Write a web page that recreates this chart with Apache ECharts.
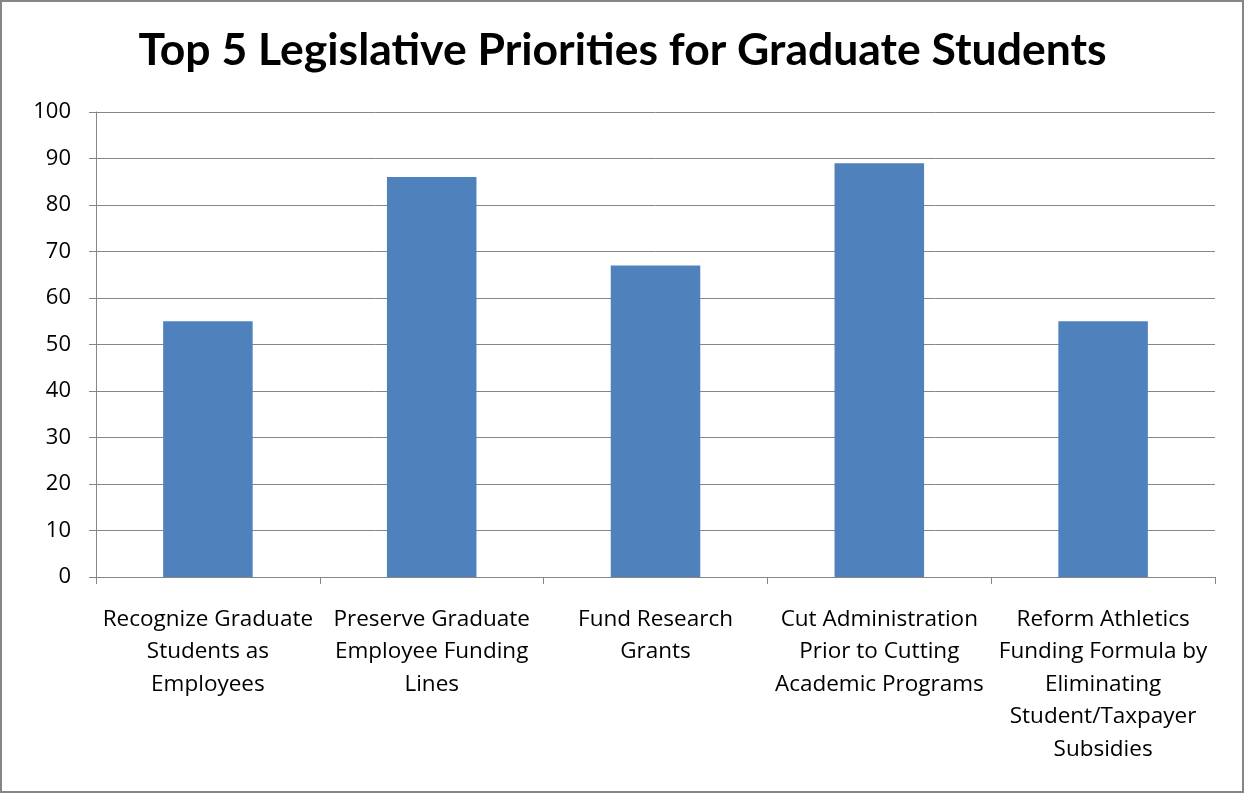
<!DOCTYPE html>
<html>
<head>
<meta charset="utf-8">
<script src="https://cdn.jsdelivr.net/npm/echarts@6/dist/echarts.min.js"></script>
<style>
  html, body { margin: 0; padding: 0; background: #fff; }
  #chart { width: 1245px; height: 794px; }
</style>
</head>
<body>
<div id="chart"></div>
<script>
// Survey results: share of graduate students naming each legislative priority
const categories = [
  'Recognize Graduate\nStudents as\nEmployees',
  'Preserve Graduate\nEmployee Funding\nLines',
  'Fund Research\nGrants',
  'Cut Administration\nPrior to Cutting\nAcademic Programs',
  'Reform Athletics\nFunding Formula by\nEliminating\nStudent/Taxpayer\nSubsidies'
];
const values = [55, 86, 67, 89, 55];
const yTicks = { min: 0, max: 100, interval: 10 };

const TITLE_FONT = 'Lato, "Open Sans", sans-serif';
const LABEL_FONT = '"Open Sans", Lato, sans-serif';
const GRID_GREY = '#868686';

const chart = echarts.init(document.getElementById('chart'), null, { renderer: 'canvas' });
chart.setOption({
  backgroundColor: '#ffffff',
  animation: false,
  title: {
    text: 'Top 5 Legislative Priorities for Graduate Students',
    left: 'center',
    top: 23,
    textStyle: { fontFamily: TITLE_FONT, fontWeight: 'bold', fontSize: 44.5, color: '#000' }
  },
  graphic: [{
    type: 'rect',
    shape: { x: 1, y: 1, width: 1242, height: 791 },
    style: { fill: 'none', stroke: GRID_GREY, lineWidth: 2 },
    silent: true
  }],
  grid: { left: 96, right: 30, top: 112, bottom: 217, containLabel: false },
  xAxis: {
    type: 'category',
    data: categories,
    axisLine: { lineStyle: { color: GRID_GREY, width: 1 } },
    axisTick: { show: true, length: 7, lineStyle: { color: GRID_GREY } },
    axisLabel: {
      interval: 0,
      margin: 26,
      fontFamily: LABEL_FONT,
      fontSize: 22.5,
      lineHeight: 32.5,
      color: '#000',
      align: 'center'
    }
  },
  yAxis: {
    type: 'value',
    min: yTicks.min,
    max: yTicks.max,
    interval: yTicks.interval,
    axisLine: { show: true, lineStyle: { color: GRID_GREY, width: 1 } },
    axisTick: { show: true, length: 7, lineStyle: { color: GRID_GREY } },
    splitLine: { show: true, lineStyle: { color: GRID_GREY, width: 1 } },
    axisLabel: { fontFamily: LABEL_FONT, fontSize: 22, color: '#000', margin: 25 }
  },
  series: [{
    type: 'bar',
    data: values,
    barWidth: '40%',
    itemStyle: { color: '#4F81BD' }
  }]
});
</script>
</body>
</html>
